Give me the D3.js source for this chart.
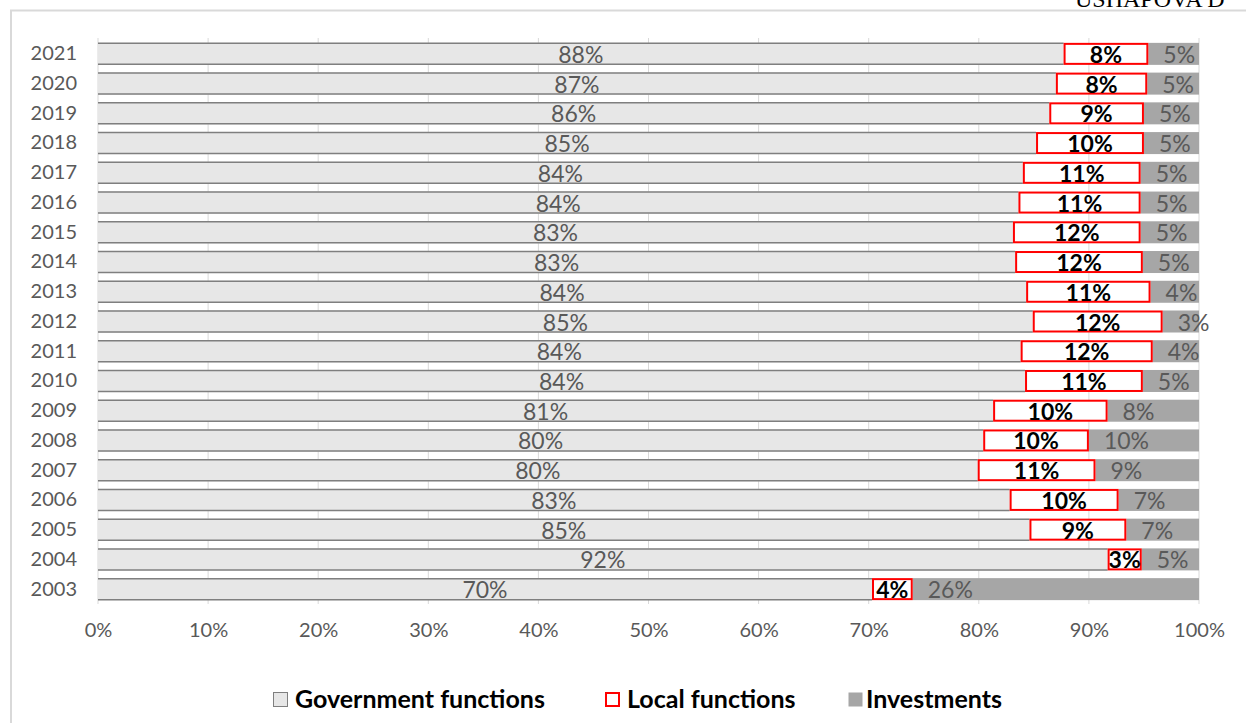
<!DOCTYPE html>
<html>
<head>
<meta charset="utf-8">
<script src="https://cdn.jsdelivr.net/npm/d3@7"></script>
<style>
  body { margin: 0; background: #fff; }
  svg { display: block; font-family: Lato, "Open Sans", sans-serif; }
</style>
</head>
<body>
<div id="chart"></div>
<script>
// data, shares in percent
const years = ["2021","2020","2019","2018","2017","2016","2015","2014","2013","2012",
               "2011","2010","2009","2008","2007","2006","2005","2004","2003"]
const government = [87.7, 87.0, 86.4, 85.2, 84.0, 83.6, 83.1, 83.3, 84.3, 84.9,
                    83.8, 84.2, 81.3, 80.4, 79.9, 82.8, 84.6, 91.7, 70.3]
const local = [7.7, 8.3, 8.6, 9.8, 10.7, 11.1, 11.6, 11.6, 11.3, 11.8,
               12.0, 10.7, 10.4, 9.6, 10.7, 9.9, 8.8, 3.1, 3.7]
const investments = [4.6, 4.7, 5.0, 5.0, 5.3, 5.3, 5.3, 5.1, 4.4, 3.3,
                     4.2, 5.1, 8.3, 10.0, 9.4, 7.3, 6.6, 5.2, 26.0]
const ticks = [0, 0.1, 0.2, 0.3, 0.4, 0.5, 0.6, 0.7, 0.8, 0.9, 1]
const seriesNames = ["Government functions", "Local functions", "Investments"]

const width = 1246
const height = 723

const rows = years.map((y, i) => ({
  year: y,
  gov: government[i] / 100,
  loc: local[i] / 100,
  inv: investments[i] / 100
}))

const svg = d3.select("#chart").append("svg")
  .attr("width", width)
  .attr("height", height)

// page header text (cut off at the top, as in the source) and chart frame
svg.append("text")
  .attr("x", 1075).attr("y", 7)
  .attr("font-family", "Liberation Serif, serif")
  .attr("font-size", 24)
  .attr("fill", "#000")
  .text("USHAPOVA D")

svg.append("path")
  .attr("d", "M11,723V10.5H1246")
  .attr("fill", "none")
  .attr("stroke", "#d9d9d9")
  .attr("stroke-width", 2)

const x = d3.scaleLinear().domain([0, 1]).range([98, 1199])
const y = d3.scaleBand().domain(years).range([39, 604])
  .paddingInner(0.26).paddingOuter(0.13)

const pct = d3.format(".0%")

// gridlines
svg.append("g")
  .selectAll("line")
  .data(ticks)
  .join("line")
  .attr("x1", d => x(d)).attr("x2", d => x(d))
  .attr("y1", 38).attr("y2", 604)
  .attr("stroke", "#d9d9d9")
  .attr("stroke-width", 1)

// x axis labels
const xAxis = svg.append("g")
  .attr("transform", "translate(0,604)")
  .call(d3.axisBottom(x).tickValues(ticks).tickFormat(pct).tickSize(0).tickPadding(19))
xAxis.select(".domain").remove()
xAxis.selectAll("text")
  .attr("font-family", "Lato, sans-serif")
  .attr("font-size", 20)
  .attr("fill", "#595959")

// y axis labels
const yAxis = svg.append("g")
  .attr("transform", "translate(98,0)")
  .call(d3.axisLeft(y).tickSize(0).tickPadding(21))
yAxis.select(".domain").remove()
yAxis.selectAll("text")
  .attr("font-family", "Lato, sans-serif")
  .attr("font-size", 20)
  .attr("fill", "#595959")

const bh = y.bandwidth()
const g = svg.append("g")
  .selectAll("g")
  .data(rows)
  .join("g")
  .attr("transform", d => `translate(0,${y(d.year)})`)

// government functions
g.append("rect")
  .attr("x", x(0))
  .attr("width", d => x(d.gov) - x(0))
  .attr("height", bh)
  .attr("fill", "#e7e7e7")
g.append("line")
  .attr("x1", x(0)).attr("x2", d => x(d.gov))
  .attr("y1", 0.5).attr("y2", 0.5)
  .attr("stroke", "#7f7f7f").attr("stroke-width", 1.5)
g.append("line")
  .attr("x1", x(0)).attr("x2", d => x(d.gov))
  .attr("y1", bh - 0.5).attr("y2", bh - 0.5)
  .attr("stroke", "#7f7f7f").attr("stroke-width", 1.5)

// investments
g.append("rect")
  .attr("x", d => x(d.gov + d.loc))
  .attr("width", d => x(d.gov + d.loc + d.inv) - x(d.gov + d.loc))
  .attr("height", bh)
  .attr("fill", "#a6a6a6")

// local functions
g.append("rect")
  .attr("x", d => x(d.gov) + 1)
  .attr("y", 1)
  .attr("width", d => x(d.gov + d.loc) - x(d.gov) - 2)
  .attr("height", bh - 2)
  .attr("fill", "#fff")
  .attr("stroke", "#ff0000")
  .attr("stroke-width", 2)

// value labels
g.append("text")
  .attr("x", d => (x(0) + x(d.gov)) / 2)
  .attr("y", bh / 2 + 9)
  .attr("text-anchor", "middle")
  .attr("font-size", 23)
  .attr("fill", "#595959")
  .text(d => pct(d.gov))

g.append("text")
  .attr("x", d => (x(d.gov) + x(d.gov + d.loc)) / 2)
  .attr("y", bh / 2 + 9)
  .attr("text-anchor", "middle")
  .attr("font-size", 23)
  .attr("font-weight", "bold")
  .attr("fill", "#000")
  .text(d => pct(d.loc))

g.append("text")
  .attr("x", d => x(d.gov + d.loc) + 15)
  .attr("y", bh / 2 + 9)
  .attr("font-size", 23)
  .attr("fill", "#595959")
  .text(d => pct(d.inv))

// legend
const legendX = [273, 605, 848]
const leg = svg.append("g")
  .selectAll("g")
  .data(seriesNames)
  .join("g")
  .attr("transform", (d, i) => `translate(${legendX[i]},692)`)

leg.append("rect")
  .attr("x", (d, i) => i === 1 ? 1 : 0.5)
  .attr("y", (d, i) => i === 1 ? 1 : 0.5)
  .attr("width", (d, i) => i === 1 ? 13 : 14)
  .attr("height", (d, i) => i === 1 ? 13 : 14)
  .attr("fill", (d, i) => ["#e7e7e7", "#fff", "#a6a6a6"][i])
  .attr("stroke", (d, i) => ["#7f7f7f", "#ff0000", "none"][i])
  .attr("stroke-width", (d, i) => i === 1 ? 2 : 1)

leg.append("text")
  .attr("x", (d, i) => i === 2 ? 18 : 22)
  .attr("y", 16)
  .attr("font-size", 25)
  .attr("font-weight", "bold")
  .attr("fill", "#000")
  .text(d => d)
</script>
</body>
</html>
